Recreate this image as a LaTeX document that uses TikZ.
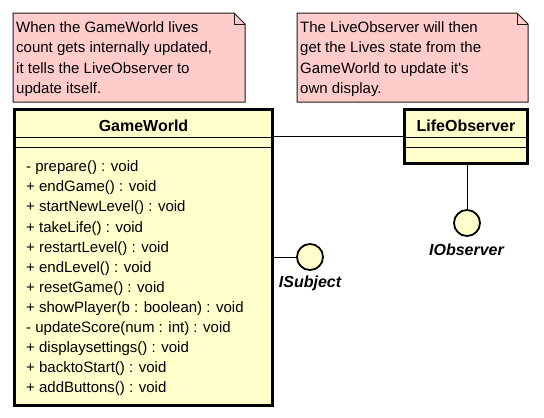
\documentclass[tikz,border=0pt]{standalone}
\usepackage{fontspec}
\setmainfont{Liberation Sans}
\definecolor{notepink}{HTML}{FFCCCC}
\definecolor{classyellow}{HTML}{FFFFCC}
\begin{document}
\begin{tikzpicture}[x=1pt,y=-1pt,
  classbox/.style={draw,line width=3pt,fill=classyellow,inner sep=0pt},
  classname/.style={font=\fontsize{16}{19}\selectfont\bfseries},
  method/.style={anchor=base west,inner sep=0pt,font=\fontsize{15}{18}\selectfont},
  notetext/.style={anchor=north west,inner sep=0pt,align=left,font=\fontsize{15}{20.5}\selectfont},
  note/.style={fill=notepink,draw=black!90,line width=1pt},
  iface/.style={draw,line width=1.8pt,fill=classyellow,circle,minimum size=26pt,inner sep=0pt},
  ifacename/.style={font=\fontsize{16}{19}\selectfont\bfseries\itshape},
  link/.style={draw,line width=1pt}]
  \useasboundingbox (0,0) rectangle (544,418);
  % notes
  \filldraw[note] (13,13) -- (234,13) -- (245,24) -- (245,102) -- (13,102) -- cycle;
  \draw[note,fill=none] (234,13) -- (234,24) -- (245,24);
  \node[notetext] (note1) at (16,21) {When the GameWorld lives\\count gets internally updated,\\it tells the LiveObserver to\\update itself.};
  \filldraw[note] (297,13) -- (517,13) -- (528,24) -- (528,102) -- (297,102) -- cycle;
  \draw[note,fill=none] (517,13) -- (517,24) -- (528,24);
  \node[notetext] (note2) at (300,21) {The LiveObserver will then\\get the Lives state from the\\GameWorld to update it\textquotesingle s\\own display.};
  % classes
  \node[classbox,minimum width=258pt,minimum height=296pt] (gw) at (143.5,257.5) {};
  \node[classbox,minimum width=123pt,minimum height=54pt] (lo) at (466,136.5) {};
  \foreach \c in {gw,lo}
    \foreach \s in {29.5,39.5}
      \draw[line width=0.8pt] ([yshift=-\s pt]\c.north west) -- ([yshift=-\s pt]\c.north east);
  \node[classname] (gwname) at (143.5,126) {GameWorld};
  \node[classname] (loname) at (466,126) {LifeObserver};
  \foreach \m [count=\i] in {- prepare() : void, + endGame() : void, + startNewLevel() : void,
      + takeLife() : void, + restartLevel() : void, + endLevel() : void, + resetGame() : void,
      + showPlayer(b : boolean) : void, - updateScore(num : int) : void,
      + displaysettings() : void, + backtoStart() : void, + addButtons() : void}
    \node[method] (m\i) at (26,171.7+20.1*\i-20.1) {\m};
  % interfaces
  \node[iface] (isub) at (310,257) {};
  \node[iface] (iobs) at (467,223) {};
  \node[ifacename] (isubname) at (310,283) {ISubject};
  \node[ifacename] (iobsname) at (466.5,250) {IObserver};
  \draw[link] (gw.east |- lo.west) -- (lo.west);
  \draw[link] (gw.east |- isub) -- (isub);
  \draw[link] (lo.south -| iobs) -- (iobs);
\end{tikzpicture}
\end{document}
